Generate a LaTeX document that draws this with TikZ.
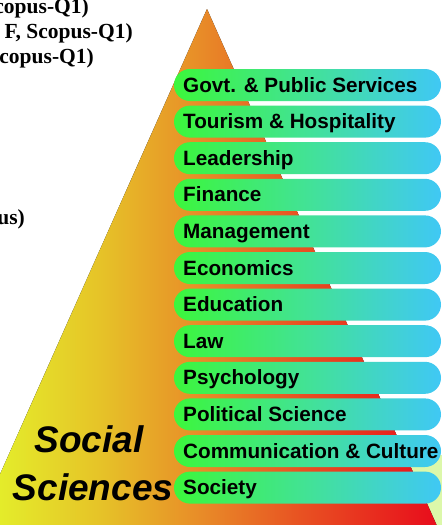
\documentclass[tikz,border=0pt]{standalone}
\usepackage{fontspec}
\setmainfont{Liberation Serif}
\setsansfont{Liberation Sans}
\definecolor{t0}{RGB}{228,236,42}
\definecolor{t1}{RGB}{230,195,40}
\definecolor{t2}{RGB}{232,140,40}
\definecolor{t3}{RGB}{232,82,34}
\definecolor{t4}{RGB}{232,16,28}
\definecolor{pgreen}{RGB}{60,246,60}
\definecolor{pmid}{RGB}{66,226,150}
\definecolor{pblue}{RGB}{64,200,245}
\definecolor{lgreen}{RGB}{220,248,170}
\pgfdeclarehorizontalshading{trishade}{100bp}{color(0bp)=(t0); color(25bp)=(t0); color(36.3bp)=(t1); color(47.6bp)=(t2); color(58.9bp)=(t3); color(73.6bp)=(t4); color(100bp)=(t4)}
\tikzset{
  pill/.style={rounded corners=16pt, minimum width=267pt, minimum height=32pt, inner sep=0pt,
    left color=pgreen, right color=pblue, middle color=pmid, draw=none},
  plabel/.style={inner sep=0pt, font=\fontsize{20.7}{24}\selectfont\bfseries\sffamily, text=black},
  sslabel/.style={inner sep=0pt, font=\fontsize{37}{40}\selectfont\bfseries\itshape\sffamily, text=black},
  seriflabel/.style={inner sep=0pt, font=\fontsize{21.5}{24}\selectfont\bfseries\rmfamily, text=black}
}
\begin{document}
\begin{tikzpicture}[x=1pt,y=-1pt]
\clip (0,0) rectangle (442,525);
\fill[white] (0,0) rectangle (442,525);
% pale green shape at the lower right
\fill[lgreen] (400,455) -- (442,455) -- (442,525) -- (400,525) -- cycle;
% the pyramid
\begin{scope}
  \clip (207,9) -- (-24.8,530) -- (438.8,530) -- cycle;
  \fill[shading=trishade] (0,0) rectangle (442,530);
\end{scope}
% the bars
\foreach \t [count=\i from 0] in {{Govt. \& Public Services},{Tourism \& Hospitality},{Leadership},{Finance},{Management},{Economics},{Education},{Law},{Psychology},{Political Science},{Communication \& Culture},{Society}}{
  \pgfmathsetmacro\cy{85+36.6*\i}
  \node[pill] (pill\i) at (307.5,\cy) {};
  \node[plabel, anchor=base west] (lab\i) at (183,\cy+7) {\t};
}
% title in the pyramid
\node[sslabel, anchor=base] (social) at (89,452) {Social};
\node[sslabel, anchor=base] (sciences) at (93,500) {Sciences};
% cut text at the left
\node[seriflabel, anchor=base east] (l1) at (89,13.3) {copus-Q1)};
\node[seriflabel, anchor=base east] (l2) at (133,38.3) {F, Scopus-Q1)};
\node[seriflabel, anchor=base east] (l3) at (94,63) {copus-Q1)};
\node[seriflabel, anchor=base east] (l4) at (25,224) {us)};
\end{tikzpicture}
\end{document}
